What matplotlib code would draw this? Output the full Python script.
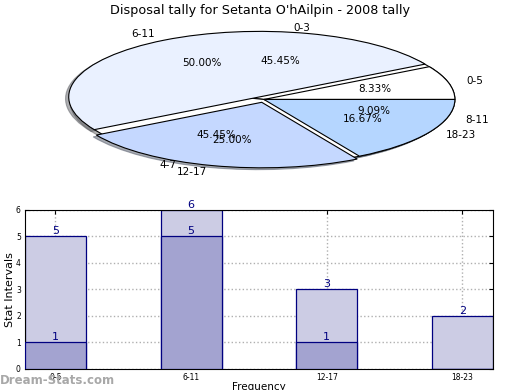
import matplotlib.pyplot as plt

# data
pie_a_labels = ['0-3', '4-7', '8-11']
pie_a_values = [5, 5, 1]
pie_b_labels = ['0-5', '6-11', '12-17', '18-23']
pie_b_values = [1, 6, 3, 2]
bar_labels = ['0-5', '6-11', '12-17', '18-23']
bar_light = [5, 6, 3, 2]
bar_dark = [1, 5, 1, 0]

fig = plt.figure(figsize=(5.2, 3.9), dpi=100)
fig.text(0.5, 0.972, "Disposal tally for Setanta O'hAilpin - 2008 tally",
         ha='center', va='center', fontsize=9.2)

# pie (squashed ellipse, two pies on top of each other)
shadow = dict(ox=-0.012, oy=-0.02, shade=0.6)
ax1 = fig.add_axes([0.0486, 0.535, 0.918, 0.42])
ax1.pie(pie_a_values, labels=pie_a_labels, autopct='%.2f%%',
        colors=['white'] * 3, shadow=shadow,
        wedgeprops=dict(edgecolor='black', linewidth=0.8),
        textprops=dict(fontsize=7.5))
ax1.pie(pie_b_values, labels=pie_b_labels, autopct='%.2f%%',
        colors=['white', '#eaf1ff', '#c5d8ff', '#b5d6ff'],
        explode=[0, 0.045, 0.045, 0], shadow=shadow,
        wedgeprops=dict(edgecolor='black', linewidth=0.8),
        textprops=dict(fontsize=7.5))
ax1.set_aspect('auto')
ax1.set_xlim(-1.25, 1.25)
ax1.set_ylim(-1.25, 1.25)

# bars
ax2 = fig.add_axes([0.048, 0.054, 0.9, 0.408])
x = range(len(bar_labels))
ax2.bar(x, bar_light, width=0.45, color='#ccccE4', edgecolor='#000080',
        linewidth=0.9, zorder=2)
ax2.bar(x, bar_dark, width=0.45, color='#a3a3d0', edgecolor='#000080',
        linewidth=0.9, zorder=3)
for i in x:
    ax2.text(i, bar_light[i], str(bar_light[i]), ha='center', va='bottom',
             color='#000080', fontsize=8, zorder=4)
    if bar_dark[i] > 0:
        ax2.text(i, bar_dark[i], str(bar_dark[i]), ha='center', va='bottom',
                 color='#000080', fontsize=8, zorder=4)
ax2.set_xlim(-0.225, 3.225)
ax2.set_ylim(0, 6)
ax2.set_xticks(list(x))
ax2.set_xticklabels(bar_labels)
ax2.set_yticks(range(7))
ax2.tick_params(labelsize=5.5, direction='in', length=3, top=True, right=True, pad=3)
ax2.grid(True, linestyle=':', color='#b0b0b0', linewidth=1, zorder=0)
ax2.set_axisbelow(True)
ax2.set_ylabel('Stat Intervals', fontsize=8, labelpad=1)
ax2.set_xlabel('Frequency', fontsize=7.5, labelpad=0)

fig.text(0.0, 0.025, 'Dream-Stats.com', fontsize=8.5, color='#a8a8a8',
         ha='left', va='center', fontweight='bold')

fig.savefig('out.png', dpi=100)
